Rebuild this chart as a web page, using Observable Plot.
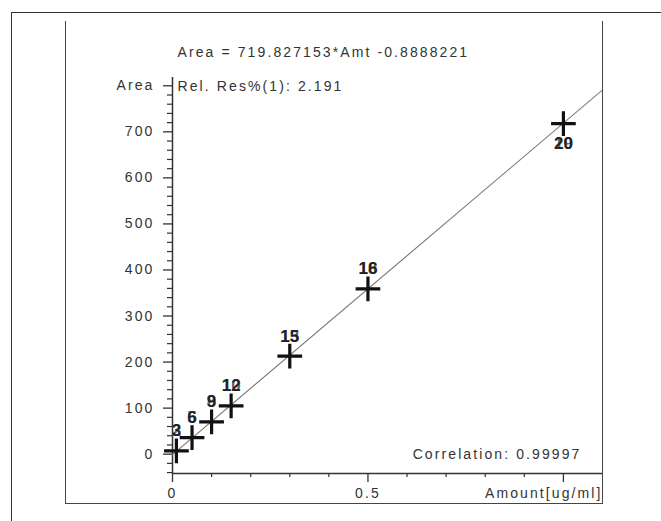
<!DOCTYPE html>
<html><head><meta charset="utf-8">
<script src="https://cdn.jsdelivr.net/npm/d3@7"></script>
<script src="https://cdn.jsdelivr.net/npm/@observablehq/plot@0.6"></script>
<style>
html,body{margin:0;padding:0;background:#fff;}
#wrap{position:relative;width:661px;height:521px;overflow:hidden;background:#fff;}
#outer{position:absolute;left:11px;top:12px;width:700px;height:600px;border-left:1.5px solid #333;border-top:1.5px solid #333;}
#inner{position:absolute;left:65px;top:21px;width:536px;height:482px;border-left:1.5px solid #444;border-right:1.5px solid #444;border-bottom:1.5px solid #444;}
#chart{position:absolute;left:0;top:0;}
#chart svg text{letter-spacing:2.1px;}
#chart svg g.lbl text{letter-spacing:0px;}
</style></head>
<body><div id="wrap"><div id="outer"></div><div id="inner"></div><div id="chart"></div></div>
<script>
// calibration points
const amounts = [0.01, 0.05, 0.1, 0.15, 0.3, 0.5, 1.0];
const areas = [7, 36, 70, 105, 213, 359, 718];
const labelsFront = ["3", "6", "9", "12", "15", "16", "20"];
const labelsBack = ["2", "5", "8", "10", "13", "18", "19"];
const labelBelow = [false, false, false, false, false, false, true];

// regression
const slope = 719.827153;
const intercept = -0.8888221;
const fitText = "Area = 719.827153*Amt -0.8888221";
const relResText = "Rel. Res%(1): 2.191";
const corrText = "Correlation: 0.99997";
const xTitle = "Amount[ug/ml]";

// axes
const xDomain = [0, 1.1];
const yDomain = [-42, 818];
const xMajor = [0, 0.5, 1.0];
const xMajorLabels = ["0", "0.5", ""];
const xMinor = [0.1, 0.2, 0.3, 0.4, 0.6, 0.7, 0.8, 0.9];
const yMajor = [0, 100, 200, 300, 400, 500, 600, 700, 800];
const yMajorLabels = ["0", "100", "200", "300", "400", "500", "600", "700", "Area"];
const yMinor = [-40, -20, 20, 40, 60, 80, 120, 140, 160, 180, 220, 240, 260, 280, 320, 340, 360, 380,
  420, 440, 460, 480, 520, 540, 560, 580, 620, 640, 660, 680, 720, 740, 760, 780];

const pts = amounts.map((a, i) => ({x: a, y: areas[i], front: labelsFront[i], back: labelsBack[i], below: labelBelow[i]}));
const fitLine = xDomain.map(x => ({x, y: slope * x + intercept}));

const ink = "#333";
const chart = Plot.plot({
  width: 661, height: 521,
  marginLeft: 172, marginRight: 59, marginTop: 77, marginBottom: 48,
  x: {domain: xDomain},
  y: {domain: yDomain},
  style: {fontFamily: "'Liberation Sans', Arial, sans-serif", fontSize: "14px", color: ink, background: "transparent"},
  marks: [
    Plot.ruleX([0], {y1: yDomain[0], y2: yDomain[1], stroke: ink, strokeWidth: 1.5}),
    Plot.ruleY([yDomain[0]], {x1: xDomain[0], x2: xDomain[1], stroke: ink, strokeWidth: 1.5}),
    Plot.axisY(yMajor, {anchor: "left", label: null, tickSize: 9, tickPadding: 9, stroke: ink, strokeWidth: 1.3, fill: ink,
      tickFormat: d => yMajorLabels[yMajor.indexOf(d)], fontSize: 14}),
    Plot.axisY(yMinor, {anchor: "left", label: null, tickSize: 5, stroke: ink, strokeWidth: 1.2, tickFormat: () => ""}),
    Plot.axisX(xMajor, {anchor: "bottom", label: null, tickSize: 9, tickPadding: 6, stroke: ink, strokeWidth: 1.3, fill: ink,
      tickFormat: d => xMajorLabels[xMajor.indexOf(d)], fontSize: 14}),
    Plot.axisX(xMinor, {anchor: "bottom", label: null, tickSize: 4, stroke: ink, strokeWidth: 1.2, tickFormat: () => ""}),
    Plot.line(fitLine, {x: "x", y: "y", stroke: "#777", strokeWidth: 1.1, clip: true}),
    Plot.dot(pts, {x: "x", y: "y", symbol: "plus", r: 8, stroke: "#111", strokeWidth: 3.2}),
    Plot.text(pts.filter(d => !d.below), {x: "x", y: "y", text: "back", dy: -20, fontSize: 17, fontWeight: "bold", fill: "#666", className: "lbl"}),
    Plot.text(pts.filter(d => !d.below), {x: "x", y: "y", text: "front", dy: -20, fontSize: 17, fontWeight: "bold", fill: "#222", className: "lbl"}),
    Plot.text(pts.filter(d => d.below), {x: "x", y: "y", text: "back", dy: 20, fontSize: 17, fontWeight: "bold", fill: "#666", className: "lbl"}),
    Plot.text(pts.filter(d => d.below), {x: "x", y: "y", text: "front", dy: 20, fontSize: 17, fontWeight: "bold", fill: "#222", className: "lbl"}),
    Plot.text([fitText], {frameAnchor: "top-left", textAnchor: "start", lineAnchor: "middle", dx: 5, dy: -25, fill: ink, fontSize: 14}),
    Plot.text([relResText], {frameAnchor: "top-left", textAnchor: "start", lineAnchor: "middle", dx: 5, dy: 9, fill: ink, fontSize: 14}),
    Plot.text([corrText], {frameAnchor: "bottom-right", textAnchor: "end", lineAnchor: "middle", dx: -21, dy: -19, fill: ink, fontSize: 14}),
    Plot.text([xTitle], {frameAnchor: "bottom-right", textAnchor: "end", lineAnchor: "middle", dx: 0, dy: 20, fill: ink, fontSize: 14})
  ]
});
document.getElementById("chart").appendChild(chart);
</script>
</body></html>
